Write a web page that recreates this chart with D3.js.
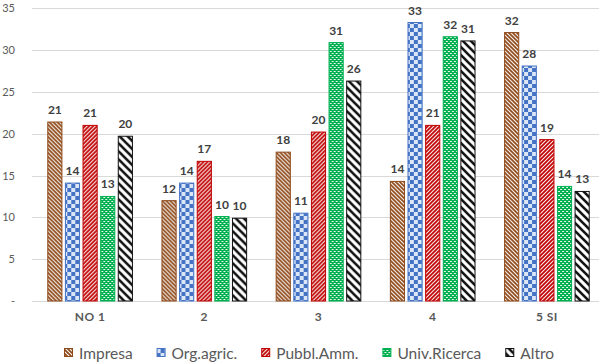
<html>
	<head>
		<script type="text/javascript" src="https://cdn.jsdelivr.net/npm/d3@7"></script>
		<style>
			body { margin: 0; background: #fff; }
			text { font-family: Lato, "Open Sans", sans-serif; }
		</style>
	</head>
	<body>
		<script type="text/javascript">

			//data
			var categories = ['NO 1', '2', '3', '4', '5 SI'],
				series = ['Impresa', 'Org.agric.', 'Pubbl.Amm.', 'Univ.Ricerca', 'Altro'],
				impresa = [21.4, 12.0, 17.8, 14.3, 32.1],
				orgAgric = [14.1, 14.1, 10.5, 33.3, 28.1],
				pubblAmm = [21.0, 16.7, 20.2, 21.0, 19.3],
				univRicerca = [12.5, 10.1, 30.9, 31.6, 13.7],
				altro = [19.7, 9.9, 26.3, 31.1, 13.1],
				yTicks = [0, 5, 10, 15, 20, 25, 30, 35];

			var values = [impresa, orgAgric, pubblAmm, univRicerca, altro];

			var width = 599,
				height = 363,
				colors = ['#8f4a1a', '#4472c4', '#c00000', '#00b050', '#111111'];

			var svg = d3.select('body').append('svg')
				.attr('width', width)
				.attr('height', height);

			//patterns
			var defs = svg.append('defs');

			var p0 = defs.append('pattern').attr('id', 'pat0')
				.attr('patternUnits', 'userSpaceOnUse').attr('width', 4).attr('height', 4);
			p0.append('rect').attr('width', 4).attr('height', 4).attr('fill', '#fff');
			p0.append('path').attr('d', 'M-1,-1 L5,5 M-1,3 L1,5 M3,-1 L5,1')
				.attr('stroke', colors[0]).attr('stroke-width', 1.8);

			var p1 = defs.append('pattern').attr('id', 'pat1')
				.attr('patternUnits', 'userSpaceOnUse').attr('width', 8).attr('height', 8);
			p1.append('rect').attr('width', 8).attr('height', 8).attr('fill', '#dbe6f7');
			p1.append('rect').attr('width', 4).attr('height', 4).attr('fill', colors[1]);
			p1.append('rect').attr('x', 4).attr('y', 4).attr('width', 4).attr('height', 4).attr('fill', colors[1]);

			var p2 = defs.append('pattern').attr('id', 'pat2')
				.attr('patternUnits', 'userSpaceOnUse').attr('width', 4).attr('height', 4);
			p2.append('rect').attr('width', 4).attr('height', 4).attr('fill', '#fff');
			p2.append('path').attr('d', 'M-1,5 L5,-1 M-1,1 L1,-1 M3,5 L5,3')
				.attr('stroke', colors[2]).attr('stroke-width', 1.8);

			var p3 = defs.append('pattern').attr('id', 'pat3')
				.attr('patternUnits', 'userSpaceOnUse').attr('width', 4).attr('height', 4);
			p3.append('rect').attr('width', 4).attr('height', 4).attr('fill', colors[3]);
			p3.append('rect').attr('x', 0).attr('y', 1).attr('width', 2).attr('height', 1).attr('fill', '#e8f8ee');
			p3.append('rect').attr('x', 2).attr('y', 3).attr('width', 2).attr('height', 1).attr('fill', '#e8f8ee');

			var p4 = defs.append('pattern').attr('id', 'pat4')
				.attr('patternUnits', 'userSpaceOnUse').attr('width', 8).attr('height', 8);
			p4.append('rect').attr('width', 8).attr('height', 8).attr('fill', '#fff');
			p4.append('path').attr('d', 'M-2,-2 L10,10 M-2,6 L2,10 M6,-2 L10,2')
				.attr('stroke', colors[4]).attr('stroke-width', 2.6);

			//scales
			var x0 = d3.scaleBand()
				.domain(categories)
				.range([33, 604])
				.paddingInner(0.25)
				.paddingOuter(0.125);

			var x1 = d3.scaleBand()
				.domain(series)
				.range([0, x0.bandwidth()])
				.paddingInner(0.14);

			var y = d3.scaleLinear()
				.domain([0, 35])
				.range([301, 8.3]);

			//grid
			svg.append('g').selectAll('line').data(yTicks).enter().append('line')
				.attr('x1', 32).attr('x2', width)
				.attr('y1', function(d){ return Math.round(y(d)) + 0.5; })
				.attr('y2', function(d){ return Math.round(y(d)) + 0.5; })
				.attr('stroke', '#d9d9d9')
				.attr('stroke-width', 1);

			//y labels
			svg.append('g').selectAll('text').data(yTicks).enter().append('text')
				.attr('x', 15)
				.attr('y', function(d){ return y(d) + 4; })
				.attr('text-anchor', 'end')
				.attr('font-size', 11)
				.attr('fill', '#595959')
				.text(function(d){ return d === 0 ? '-' : d; });

			//bars
			var groups = svg.append('g').selectAll('g').data(categories).enter().append('g')
				.attr('transform', function(d){ return 'translate(' + x0(d) + ',0)'; });

			function rows(d, i){
				return series.map(function(s, j){ return {s: s, j: j, v: values[j][i]}; });
			}

			groups.selectAll('rect')
				.data(rows)
				.enter().append('rect')
				.attr('x', function(d){ return x1(d.s) + 0.5; })
				.attr('y', function(d){ return y(d.v); })
				.attr('width', x1.bandwidth() - 1)
				.attr('height', function(d){ return y(0) - y(d.v); })
				.attr('fill', function(d){ return 'url(#pat' + d.j + ')'; })
				.attr('stroke', function(d){ return colors[d.j]; })
				.attr('stroke-width', 1);

			groups.selectAll('text.val')
				.data(rows)
				.enter().append('text')
				.attr('class', 'val')
				.attr('x', function(d){ return x1(d.s) + x1.bandwidth() / 2; })
				.attr('y', function(d){ return y(d.v) - 8; })
				.attr('text-anchor', 'middle')
				.attr('font-size', 12)
				.attr('font-weight', 'bold')
				.attr('fill', '#404040')
				.text(function(d){ return Math.round(d.v); });

			//category labels
			svg.append('g').selectAll('text').data(categories).enter().append('text')
				.attr('x', function(d){ return x0(d) + x0.bandwidth() / 2; })
				.attr('y', 321)
				.attr('text-anchor', 'middle')
				.attr('font-size', 12)
				.attr('font-weight', 'bold')
				.attr('letter-spacing', 0.5)
				.attr('fill', '#595959')
				.text(function(d){ return d; });

			//legend
			var legend = svg.append('g');
			var items = legend.selectAll('g').data(series).enter().append('g');

			items.append('rect')
				.attr('x', 0.5).attr('y', -4.5)
				.attr('width', 8).attr('height', 8)
				.attr('fill', function(d, i){ return 'url(#pat' + i + ')'; })
				.attr('stroke', function(d, i){ return colors[i]; });

			items.append('text')
				.attr('x', 15)
				.attr('y', 5.5)
				.attr('font-size', 15.5)
				.attr('fill', '#595959')
				.text(function(d){ return d; });

			var offset = 0, gap = 24;
			items.each(function(){
				var w = d3.select(this).select('text').node().getComputedTextLength();
				d3.select(this).attr('transform', 'translate(' + offset + ',0)');
				offset += 15 + w + gap;
			});
			var total = offset - gap;
			legend.attr('transform', 'translate(' + Math.round(309 - total / 2) + ',353)');

		</script>
	</body>
</html>
